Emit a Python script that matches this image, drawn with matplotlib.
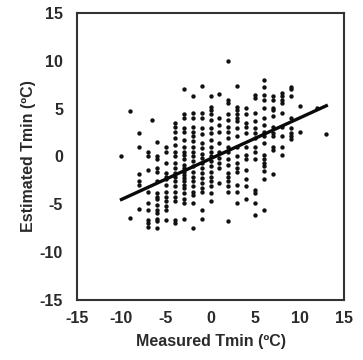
import matplotlib
matplotlib.use("Agg")
import matplotlib.pyplot as plt
import numpy as np

# Measured Tmin columns (ºC) and the estimated values observed in each column
measured_cols = [-10, -9, -8, -7, -6.6, -6, -5, -4, -3, -2, -1, 0, 1, 2, 3, 4, 5, 6, 7, 8, 9, 10, 12, 13]
estimated_by_col = [
    [0.0],
    [4.8, -6.4],
    [2.4, 1.0, -1.8, -2.6, -3.0, -5.5],
    [0.5, 0.0, -1.4, -3.7, -4.9, -5.6, -6.6, -7.0, -7.4],
    [3.8],
    [1.5, 0.0, -0.3, -1.2, -1.6, -2.6, -3.8, -4.2, -4.5, -5.1, -5.6, -5.9, -6.5, -6.8, -7.5],
    [1.0, 0.5, -0.7, -1.7, -2.1, -2.4, -3.0, -3.7, -4.2, -4.7, -5.2, -5.6, -6.6],
    [3.5, 3.1, 2.6, 1.9, 1.2, 0.5, 0.0, -0.7, -1.2, -1.7, -2.1, -2.6, -3.1, -3.7, -4.2, -4.7, -6.6, -7.0],
    [7.0, 4.4, 4.0, 3.0, 2.6, 1.7, 1.0, 0.5, 0.1, -0.3, -0.9, -1.2, -1.6, -1.9, -2.3, -2.6, -3.0, -3.3, -3.8, -4.4, -4.9, -6.5],
    [6.3, 4.5, 4.0, 3.1, 2.6, 2.1, 1.6, 1.0, 0.5, 0.0, -0.5, -1.0, -1.6, -2.1, -2.6, -3.1, -3.7, -4.0, -4.9, -7.5],
    [7.4, 4.5, 4.0, 3.0, 2.3, 1.4, 0.9, 0.3, -0.2, -0.7, -1.2, -1.7, -2.3, -2.8, -3.3, -3.7, -5.6, -6.5],
    [6.3, 5.2, 4.9, 4.4, 3.8, 3.0, 2.4, 1.7, 1.0, 0.5, 0.0, -0.5, -1.0, -1.6, -2.1, -2.6, -3.1, -3.8, -4.7],
    [6.5, 4.0, 3.3, 2.6, 1.4, 0.5, -0.2, -0.7, -1.2, -2.8],
    [10.0, 5.9, 5.6, 4.4, 3.8, 3.1, 2.6, 1.9, 1.0, 0.5, -0.3, -0.9, -1.7, -2.1, -2.6, -3.1, -3.7, -6.8],
    [7.4, 5.2, 4.9, 4.4, 4.0, 3.7, 3.0, 2.1, 1.0, 0.0, -0.7, -1.2, -1.6, -3.0, -3.7, -4.9],
    [5.1, 4.4, 3.5, 3.1, 2.4, 1.0, 0.2, -0.3, -1.4, -2.4, -3.1, -4.5],
    [6.4, 6.1, 4.5, 3.7, 3.0, 2.4, 1.9, 1.0, 0.5, -0.3, -3.5, -3.8, -4.9, -6.1],
    [8.0, 7.3, 6.4, 5.9, 5.1, 4.0, 3.3, 2.6, 2.1, 1.4, 0.2, -0.3, -0.7, -1.0, -1.5, -2.4, -5.6],
    [6.3, 5.9, 5.1, 4.9, 4.2, 3.1, 2.4, 2.1, 1.0, 0.7, -1.8],
    [6.6, 6.3, 5.9, 5.6, 4.5, 3.1, 2.1, 1.0, 0.2],
    [7.3, 7.0, 6.3, 4.0, 3.0, 2.4, 2.1, 1.8],
    [5.3, 2.6],
    [5.1],
    [2.3],
]

# Linear trend line end points
fit_x = [-10, 13]
fit_y = [-4.5, 5.3]

ticks = [-15, -10, -5, 0, 5, 10, 15]

xs = np.concatenate([[c] * len(v) for c, v in zip(measured_cols, estimated_by_col)])
ys = np.concatenate(estimated_by_col)

plt.rcParams['font.family'] = ['Liberation Sans', 'DejaVu Sans']

fig = plt.figure(figsize=(3.63, 3.60), dpi=100)
ax = fig.add_axes([0.212, 0.167, 0.736, 0.797])

ax.scatter(xs, ys, s=10, color='#111111', linewidths=0, zorder=2)
ax.plot(fit_x, fit_y, color='#0a0a0a', lw=2.4, zorder=3)

ax.set_xlim(-15, 15)
ax.set_ylim(-15, 15)
ax.set_xticks(ticks)
ax.set_yticks(ticks)
ax.set_xticklabels([str(t) for t in ticks], fontsize=11.5, fontweight='bold', color='#2a2a2a')
ax.set_yticklabels([str(t) for t in ticks], fontsize=11.5, fontweight='bold', color='#2a2a2a')
ax.tick_params(axis='x', length=0, pad=8)
ax.tick_params(axis='y', length=0, pad=10)

for sp in ax.spines.values():
    sp.set_color('#333333')
    sp.set_linewidth(1.5)

ax.set_xlabel('Measured Tmin (ºC)', fontsize=11.5, fontweight='bold', color='#2a2a2a', labelpad=6)
ax.set_ylabel('Estimated Tmin (ºC)', fontsize=11.5, fontweight='bold', color='#2a2a2a', labelpad=3)

fig.savefig('out.png', dpi=100)
